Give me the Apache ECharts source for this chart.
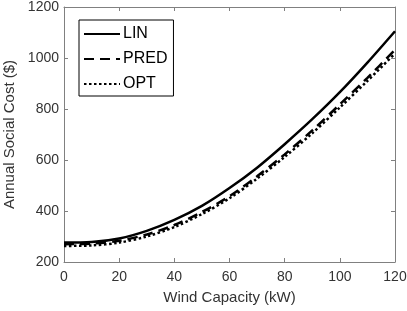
<!DOCTYPE html>
<html><head><meta charset="utf-8">
<script src="https://cdn.jsdelivr.net/npm/echarts@6/dist/echarts.min.js"></script>
<style>html,body{margin:0;padding:0;background:#fff}#c{width:407px;height:311px}</style>
</head><body><div id="c"></div>
<script>
const capacity = [0,10,20,30,40,50,60,70,80,90,100,110,120];
const linCost  = [276,278,292,322,365,420,490,570,662,760,866,982,1105];
const predCost = [270,272,283,308,345,396,458,536,622,716,818,922,1032];
const optCost  = [263,265,276,300,337,388,450,527,612,705,806,910,1018];
const seriesNames = ['LIN','PRED','OPT'];

const font = '"Liberation Sans", Arial, sans-serif';
const axisCol = '#808080';
const chart = echarts.init(document.getElementById('c'));
const mk = (arr) => capacity.map((x,i)=>[x,arr[i]]);
const axBase = {
  axisLine:{show:true,onZero:false,lineStyle:{color:axisCol,width:1}},
  axisTick:{show:true,inside:true,length:4,lineStyle:{color:axisCol}},
  splitLine:{show:false}
};
chart.setOption({
  animation:false,
  grid:{left:64,right:12,top:7,bottom:49,outerBoundsMode:'none',containLabel:false},
  legend:{
    orient:'vertical', left:79, top:20, padding:[6,6,4,4],
    borderColor:'#000', borderWidth:1, backgroundColor:'#fff',
    itemWidth:36, itemHeight:12, itemGap:9,
    itemStyle:{opacity:0},
    textStyle:{fontFamily:font,fontSize:16,color:'#000',padding:[0,0,0,-2]},
    data:seriesNames
  },
  xAxis:[
    Object.assign({type:'value',min:0,max:120,interval:20,position:'bottom',
      name:'Wind Capacity (kW)',nameLocation:'middle',nameGap:28,
      nameTextStyle:{fontFamily:font,fontSize:15,color:'#333'},
      axisLabel:{fontFamily:font,fontSize:14,color:'#333',margin:8,formatter:v=>String(v)}},axBase),
    Object.assign({type:'value',min:0,max:120,interval:20,position:'top',axisLabel:{show:false}},axBase)
  ],
  yAxis:[
    Object.assign({type:'value',min:200,max:1200,interval:200,position:'left',
      name:'Annual Social Cost ($)',nameLocation:'middle',nameGap:42,
      nameTextStyle:{fontFamily:font,fontSize:15,color:'#333'},
      axisLabel:{fontFamily:font,fontSize:14,color:'#333',margin:5,formatter:v=>String(v)}},axBase),
    Object.assign({type:'value',min:200,max:1200,interval:200,position:'right',axisLabel:{show:false}},axBase)
  ],
  series:[
    {name:'LIN',type:'line',data:mk(linCost),symbol:'none',smooth:0.3,
      lineStyle:{color:'#000',width:2.5,type:'solid'},itemStyle:{color:'#000'}},
    {name:'PRED',type:'line',data:mk(predCost),symbol:'none',smooth:0.3,
      lineStyle:{color:'#000',width:2.5,type:[10,6]},itemStyle:{color:'#000'}},
    {name:'OPT',type:'line',data:mk(optCost),symbol:'none',smooth:0.3,
      lineStyle:{color:'#000',width:2.5,type:[2.5,2.5]},itemStyle:{color:'#000'}}
  ]
});
</script></body></html>
